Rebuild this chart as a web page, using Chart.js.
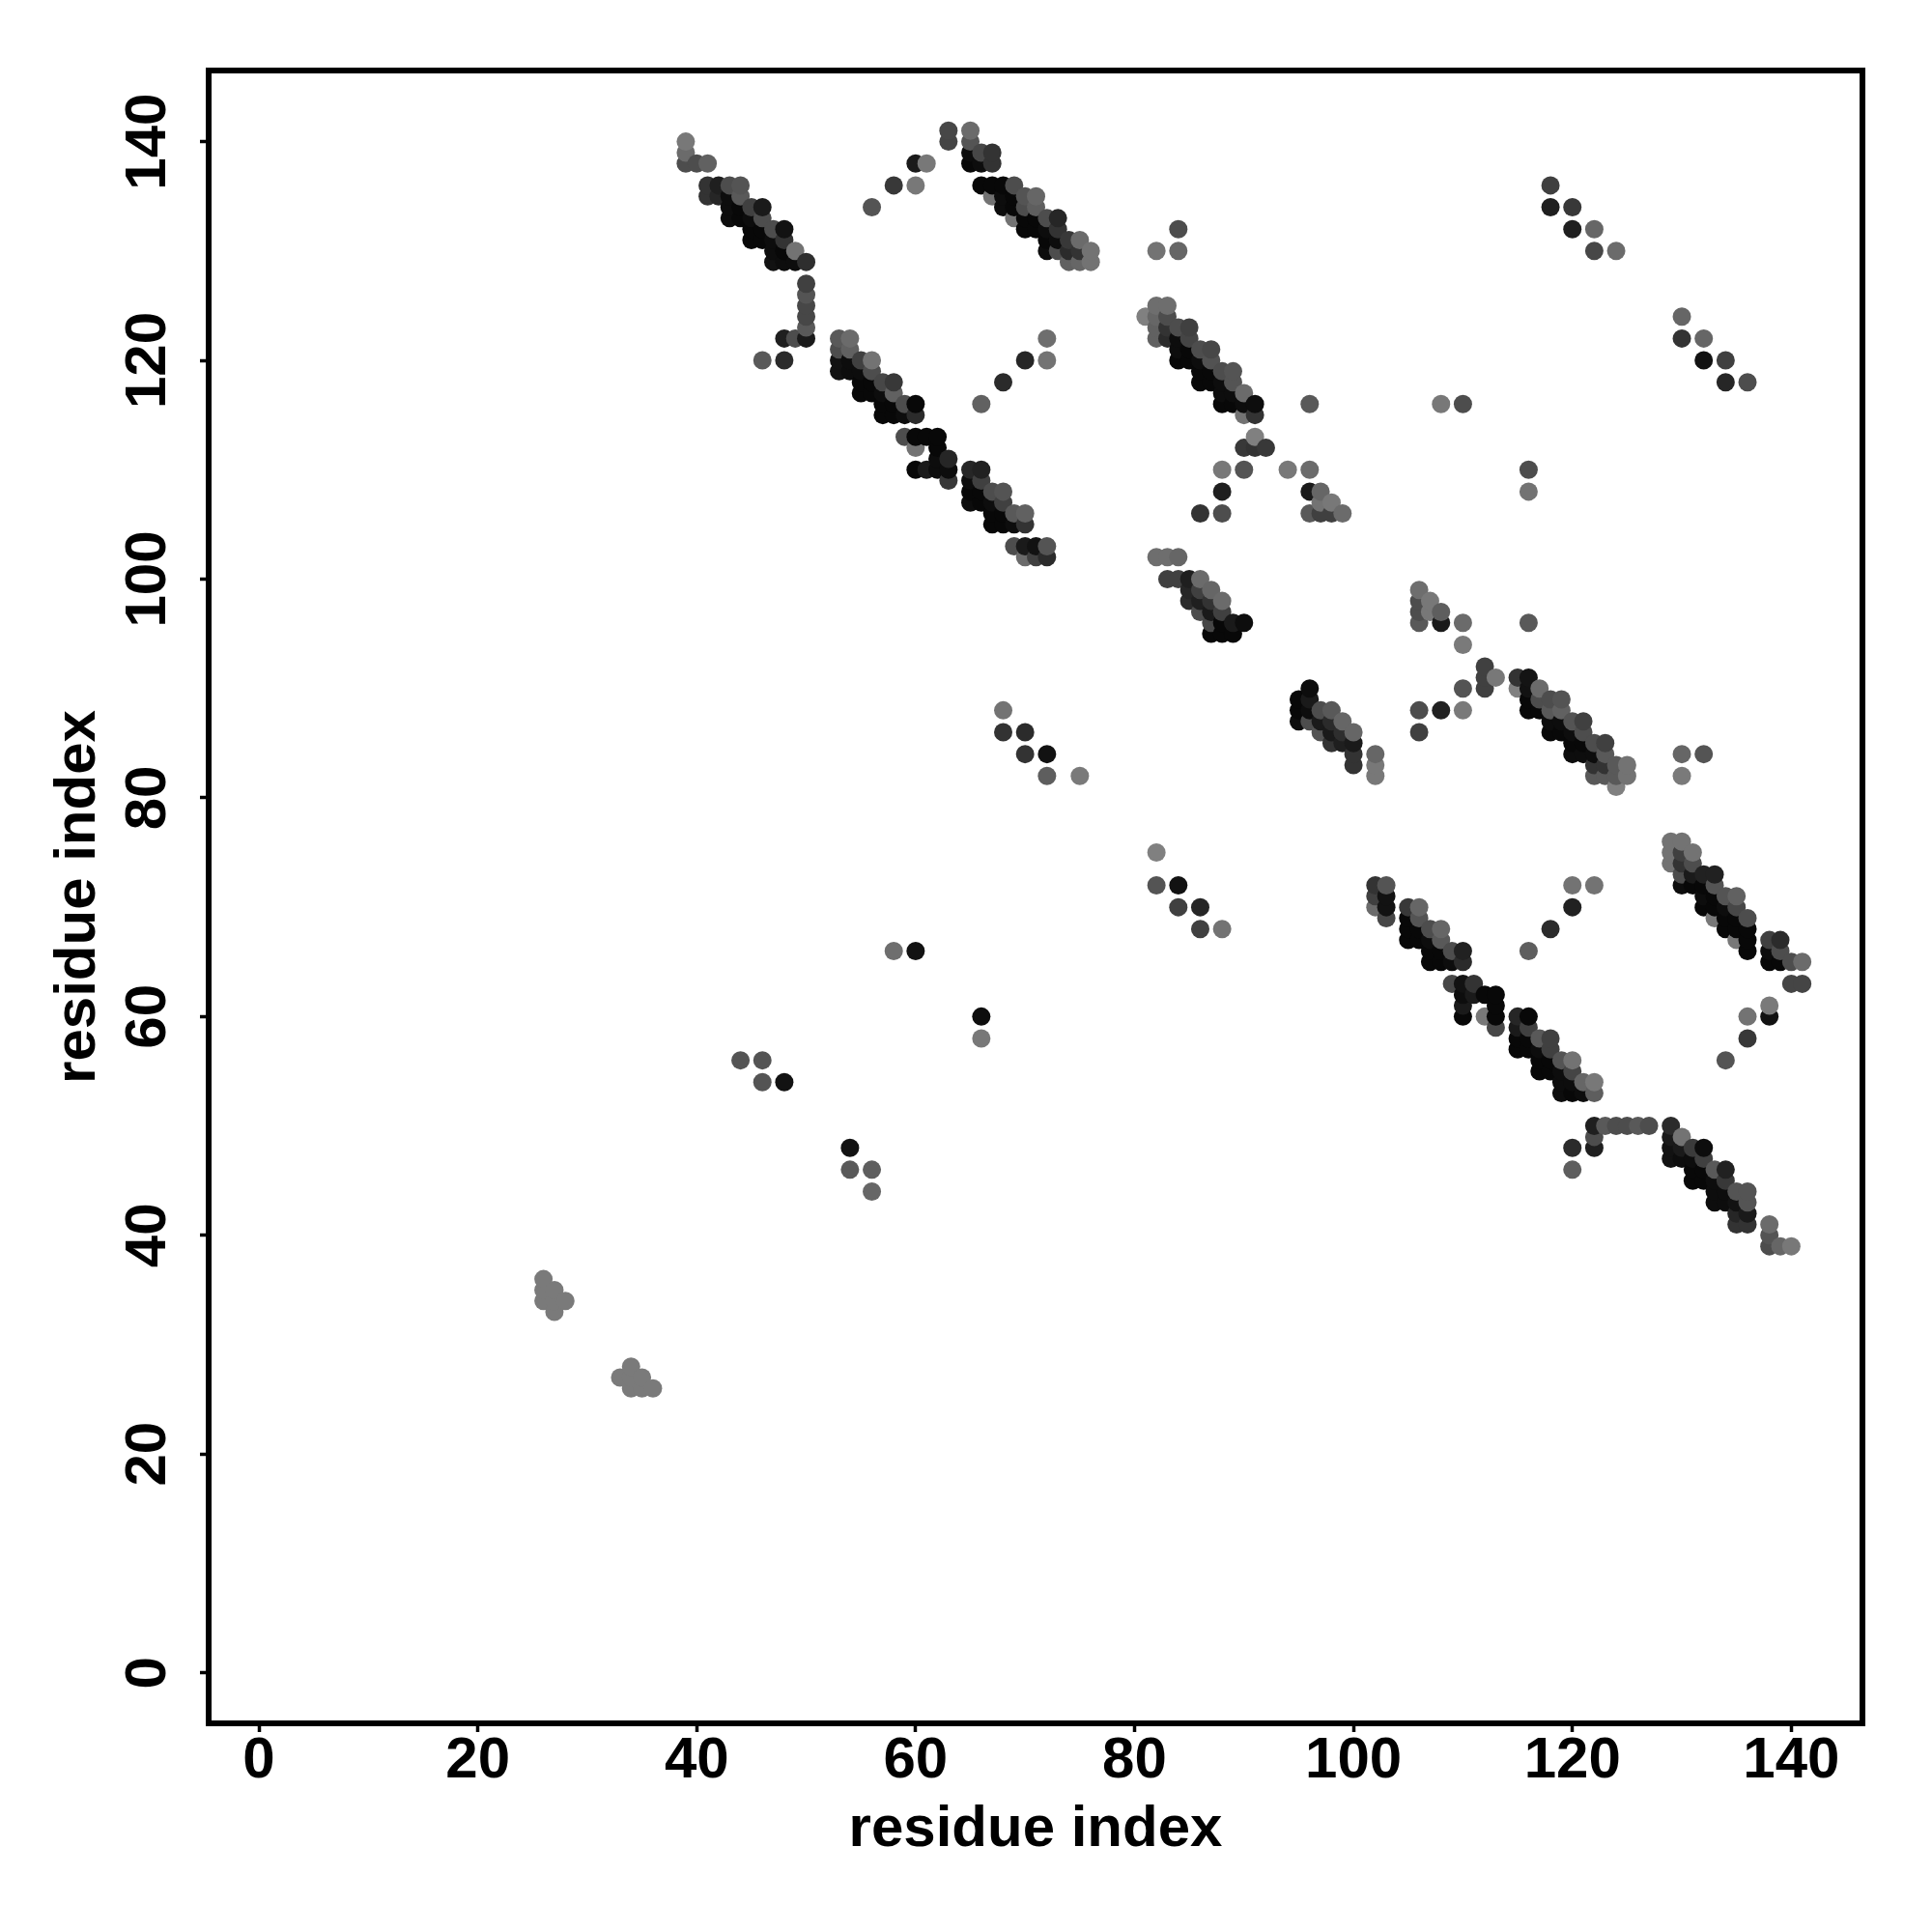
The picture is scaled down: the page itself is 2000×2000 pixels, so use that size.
<!DOCTYPE html>
<html>
<head>
<meta charset="utf-8">
<title>Contact map</title>
<script src="https://cdn.jsdelivr.net/npm/chart.js@4"></script>
<style>
html, body { margin: 0; padding: 0; background: #ffffff; }
canvas { display: block; }
</style>
</head>
<body>
<canvas id="contactMap" width="2000" height="2000"></canvas>
<script>
// Data ------------------------------------------------------------------------
var xTickValues = [0, 20, 40, 60, 80, 100, 120, 140];
var yTickValues = [0, 20, 40, 60, 80, 100, 120, 140];
var xAxisLabel = 'residue index';
var yAxisLabel = 'residue index';

// one entry per row of the map: residue on y, residues on x, grey level of each dot
var rowY = [141, 140, 139, 138, 136, 135, 134, 133, 132, 131, 130, 129, 127, 126, 125, 124, 123, 122, 121, 120,
    119, 118, 117, 116, 115, 113, 112, 111, 110, 109, 108, 107, 106, 105, 103, 102, 100, 99, 98, 97,
    96, 95, 94, 92, 91, 90, 89, 88, 87, 86, 85, 84, 83, 82, 81, 76, 75, 74, 73, 72,
    71, 70, 69, 68, 67, 66, 65, 63, 62, 61, 60, 59, 58, 57, 56, 55, 54, 53, 50, 49,
    48, 47, 46, 45, 44, 43, 42, 41, 40, 39, 36, 35, 34, 33, 28, 27, 26];

var rowX = [
    [63, 65],
    [39, 63, 65],
    [39, 65, 66, 67],
    [39, 40, 41, 60, 61, 65, 66, 67],
    [41, 42, 43, 44, 58, 60, 66, 67, 68, 69, 118],
    [41, 42, 43, 44, 67, 68, 69, 70, 71],
    [43, 44, 45, 46, 56, 68, 69, 70, 71, 118, 120],
    [43, 44, 45, 46, 69, 70, 71, 72, 73],
    [45, 46, 47, 48, 70, 71, 72, 73, 84, 120, 122],
    [45, 46, 47, 48, 72, 73, 74, 75],
    [47, 48, 49, 72, 73, 74, 75, 76, 82, 84, 122, 124],
    [47, 48, 49, 50, 74, 75, 76],
    [50],
    [50],
    [50, 82, 83],
    [50, 81, 82, 83, 130],
    [50, 82, 83, 84, 85],
    [48, 49, 50, 53, 54, 72, 82, 83, 84, 85, 130, 132],
    [53, 54, 84, 85, 86, 87],
    [46, 48, 53, 54, 55, 56, 70, 72, 84, 85, 86, 87, 132, 134],
    [53, 54, 55, 56, 86, 87, 88, 89],
    [55, 56, 57, 58, 68, 86, 87, 88, 89, 134, 136],
    [55, 56, 57, 58, 88, 89, 90],
    [57, 58, 59, 60, 66, 88, 89, 90, 91, 96, 108, 110],
    [57, 58, 59, 60, 90, 91],
    [59, 60, 61, 62, 91],
    [60, 62, 90, 91, 92],
    [62, 63],
    [60, 61, 62, 63, 65, 66, 88, 90, 94, 96, 116],
    [63, 65, 66],
    [65, 66, 67, 68, 88, 96, 97, 116],
    [65, 66, 67, 68, 97, 98],
    [67, 68, 69, 70, 86, 88, 96, 97, 98, 99],
    [67, 68, 69, 70],
    [69, 70, 71, 72],
    [70, 71, 72, 82, 83, 84],
    [83, 84, 85, 86],
    [85, 86, 87, 106],
    [85, 86, 87, 88, 106, 107],
    [86, 87, 88, 106, 107, 108],
    [87, 88, 89, 90, 106, 108, 110, 116],
    [87, 88, 89],
    [110],
    [112],
    [112, 113, 115, 116],
    [96, 110, 112, 115, 116, 117],
    [95, 96, 116, 117, 118, 119],
    [68, 95, 96, 97, 98, 106, 108, 110, 116, 117, 118, 119],
    [95, 96, 97, 98, 99, 118, 119, 120, 121],
    [68, 70, 97, 98, 99, 100, 106, 118, 119, 120, 121],
    [98, 99, 100, 120, 121, 122, 123],
    [70, 72, 100, 102, 120, 121, 122, 123, 130, 132],
    [100, 102, 122, 123, 124, 125],
    [72, 75, 102, 122, 123, 124, 125, 130],
    [124],
    [129, 130],
    [82, 129, 130, 131],
    [129, 130, 131],
    [130, 131, 132, 133],
    [82, 84, 102, 103, 120, 122, 130, 131, 132, 133],
    [102, 103, 132, 133, 134, 135],
    [84, 86, 102, 103, 105, 106, 120, 132, 133, 134, 135],
    [103, 105, 106, 133, 134, 135, 136],
    [86, 88, 105, 106, 107, 108, 118, 134, 135, 136],
    [105, 106, 107, 108, 135, 136, 138, 139],
    [58, 60, 107, 108, 109, 110, 116, 136, 138, 139],
    [107, 108, 109, 110, 138, 139, 140, 141],
    [109, 110, 111, 140, 141],
    [110, 111, 112, 113],
    [110, 113, 138],
    [66, 110, 112, 113, 115, 116, 136, 138],
    [113, 115, 116],
    [66, 115, 116, 117, 118, 136],
    [115, 116, 117, 118],
    [44, 46, 117, 118, 119, 120, 134],
    [117, 118, 119, 120],
    [46, 48, 119, 120, 121, 122],
    [119, 120, 121, 122],
    [122, 123, 124, 125, 126, 127, 129],
    [122, 129, 130],
    [54, 120, 122, 129, 130, 131, 132],
    [129, 130, 131, 132],
    [54, 56, 120, 131, 132, 133, 134],
    [131, 132, 133, 134],
    [56, 133, 134, 135, 136],
    [133, 134, 135, 136],
    [135, 136],
    [135, 136, 138],
    [138],
    [138, 139, 140],
    [26],
    [26, 27],
    [26, 27, 28],
    [27],
    [34],
    [33, 34, 35],
    [34, 35, 36]
];

var rowGrey = [
    [.28, .42],
    [.47, .27, .33],
    [.42, .05, .28, .2],
    [.3, .3, .38, .1, .47, .03, .05, .2],
    [.2, .12, .3, .33, .22, .47, .03, .03, .03, .3, .25],
    [.2, .15, .05, .35, .45, .05, .03, .33, .4],
    [.05, .03, .25, .1, .33, .05, .03, .3, .37, .12, .22],
    [.05, .03, .05, .3, .45, .03, .03, .3, .15],
    [.03, .03, .3, .07, .03, .03, .05, .2, .3, .12, .4],
    [.03, .03, .05, .2, .03, .05, .22, .42],
    [.05, .03, .45, .05, .3, .17, .2, .45, .45, .4, .28, .42],
    [.07, .05, .05, .18, .38, .4, .45],
    [.25],
    [.33],
    [.28, .43, .43],
    [.28, .5, .4, .3, .4],
    [.35, .38, .2, .3, .25],
    [.12, .3, .1, .35, .42, .43, .38, .17, .05, .27, .2, .4],
    [.3, .38, .05, .03, .3, .28],
    [.35, .17, .07, .05, .25, .45, .15, .45, .03, .03, .05, .32, .07, .25],
    [.07, .05, .05, .3, .03, .03, .3, .33],
    [.03, .03, .28, .22, .17, .03, .03, .05, .33, .15, .3],
    [.03, .03, .05, .38, .05, .05, .42],
    [.03, .03, .3, .03, .38, .03, .03, .05, .05, .35, .47, .3],
    [.03, .03, .05, .17, .45, .2],
    [.3, .03, .03, .03, .5],
    [.45, .03, .22, .2, .22],
    [.05, .15],
    [.03, .1, .05, .05, .15, .13, .47, .33, .47, .42, .3],
    [.22, .05, .25],
    [.03, .03, .3, .33, .12, .1, .4, .45],
    [.05, .03, .05, .25, .45, .47],
    [.03, .03, .35, .38, .2, .3, .35, .25, .25, .42],
    [.03, .03, .05, .2],
    [.3, .1, .07, .33],
    [.42, .25, .17, .43, .43, .4],
    [.25, .25, .12, .42],
    [.15, .25, .4, .43],
    [.17, .12, .2, .42, .3, .47],
    [.3, .1, .25, .3, .47, .37],
    [.28, .03, .1, .05, .35, .1, .42, .35],
    [.03, .03, .03],
    [.48],
    [.25],
    [.25, .47, .2, .08],
    [.05, .33, .25, .5, .07, .42],
    [.03, .1, .03, .3, .3, .33],
    [.45, .03, .05, .3, .35, .3, .13, .48, .03, .03, .35, .38],
    [.05, .3, .1, .17, .4, .05, .05, .33, .25],
    [.2, .17, .33, .1, .18, .4, .25, .03, .03, .05, .3],
    [.2, .12, .1, .03, .03, .3, .25],
    [.2, .07, .2, .4, .05, .05, .05, .35, .4, .33],
    [.2, .47, .2, .2, .35, .45],
    [.37, .48, .47, .35, .35, .35, .45, .48],
    [.5],
    [.45, .45],
    [.5, .45, .25, .45],
    [.45, .2, .3],
    [.3, .1, .13, .13],
    [.33, .07, .2, .33, .45, .45, .05, .03, .03, .33],
    [.25, .07, .05, .03, .33, .38],
    [.25, .15, .42, .07, .22, .4, .13, .03, .03, .05, .28],
    [.28, .03, .33, .47, .03, .03, .3],
    [.25, .45, .03, .03, .3, .4, .17, .03, .03, .03],
    [.03, .03, .05, .35, .47, .03, .25, .17],
    [.43, .07, .03, .03, .3, .13, .37, .03, .05, .3],
    [.03, .03, .05, .17, .03, .03, .3, .42],
    [.28, .07, .2, .27, .27],
    [.05, .1, .03, .03],
    [.1, .03, .48],
    [.05, .03, .47, .03, .15, .03, .45, .07],
    [.28, .1, .25],
    [.47, .03, .03, .35, .25, .22],
    [.03, .03, .05, .25],
    [.33, .33, .03, .03, .33, .45, .33],
    [.03, .03, .05, .27],
    [.33, .07, .05, .05, .4, .47],
    [.05, .03, .05, .37],
    [.12, .35, .3, .3, .35, .3, .17],
    [.3, .1, .45],
    [.07, .17, .12, .07, .1, .23, .05],
    [.07, .05, .05, .25],
    [.35, .37, .37, .03, .03, .35, .13],
    [.03, .03, .05, .22],
    [.4, .05, .05, .33, .33],
    [.05, .05, .07, .33],
    [.15, .1],
    [.2, .2, .42],
    [.33],
    [.3, .4, .47],
    [.48],
    [.48, .48],
    [.48, .48, .48],
    [.48],
    [.48],
    [.48, .48, .48],
    [.48, .48, .48]
];

// Build points ----------------------------------------------------------------
var points = [];
for (var i = 0; i < rowY.length; i++) {
    for (var j = 0; j < rowX[i].length; j++) {
        points.push({ x: rowX[i][j], y: rowY[i], grey: rowGrey[i][j] });
    }
}

// original draws column by column, so later residues sit on top
points.sort(function(a, b) {
    return (a.x - b.x) || (a.y - b.y);
});

function greyToColor(level) {
    var v = Math.round(level * 255);
    return 'rgb(' + v + ',' + v + ',' + v + ')';
}

// Plot frame ------------------------------------------------------------------
var framePlugin = {
    id: 'frame',
    afterDatasetsDraw: function(chart) {
        var a = chart.chartArea;
        var c = chart.ctx;
        c.save();
        c.strokeStyle = '#000000';
        c.lineWidth = 6;
        c.strokeRect(a.left, a.top, a.right - a.left, a.bottom - a.top);
        c.restore();
    }
};

// Chart -----------------------------------------------------------------------
var tickFont = { family: '"Liberation Sans"', size: 60, weight: 'bold' };
var titleFont = { family: '"Liberation Sans"', size: 60, weight: 'bold' };

new Chart(document.getElementById('contactMap').getContext('2d'), {
    type: 'scatter',
    data: {
        datasets: [{
            data: points,
            pointRadius: 9.5,
            pointBorderWidth: 0,
            pointBackgroundColor: points.map(function(p) { return greyToColor(p.grey); }),
            showLine: false
        }]
    },
    plugins: [framePlugin],
    options: {
        responsive: false,
        devicePixelRatio: 1,
        animation: false,
        events: [],
        layout: { padding: { top: 73, right: 72, left: 0, bottom: 0 } },
        plugins: {
            legend: { display: false },
            tooltip: { enabled: false }
        },
        scales: {
            x: {
                type: 'linear',
                min: -4.59,
                max: 146.5,
                afterBuildTicks: function(axis) {
                    axis.ticks = xTickValues.map(function(v) { return { value: v }; });
                },
                afterFit: function(axis) { axis.height = 216; },
                grid: { drawOnChartArea: false, drawTicks: true, tickLength: 9, tickWidth: 3.5, tickColor: '#000000' },
                border: { display: false },
                ticks: {
                    color: '#000000',
                    font: tickFont,
                    padding: -6,
                    maxRotation: 0,
                    autoSkip: false
                },
                title: {
                    display: true,
                    text: xAxisLabel,
                    color: '#000000',
                    font: titleFont,
                    padding: { top: 0, bottom: 70 }
                }
            },
            y: {
                type: 'linear',
                min: -4.62,
                max: 146.5,
                afterBuildTicks: function(axis) {
                    axis.ticks = yTickValues.map(function(v) { return { value: v }; });
                },
                afterFit: function(axis) { axis.width = 216; },
                grid: { drawOnChartArea: false, drawTicks: true, tickLength: 9, tickWidth: 3.5, tickColor: '#000000' },
                border: { display: false },
                ticks: {
                    color: '#000000',
                    font: tickFont,
                    padding: 2,
                    minRotation: 90,
                    maxRotation: 90,
                    crossAlign: 'center',
                    autoSkip: false
                },
                title: {
                    display: true,
                    text: yAxisLabel,
                    color: '#000000',
                    font: titleFont,
                    padding: { top: 45, bottom: 0 }
                }
            }
        }
    }
});
</script>
</body>
</html>
